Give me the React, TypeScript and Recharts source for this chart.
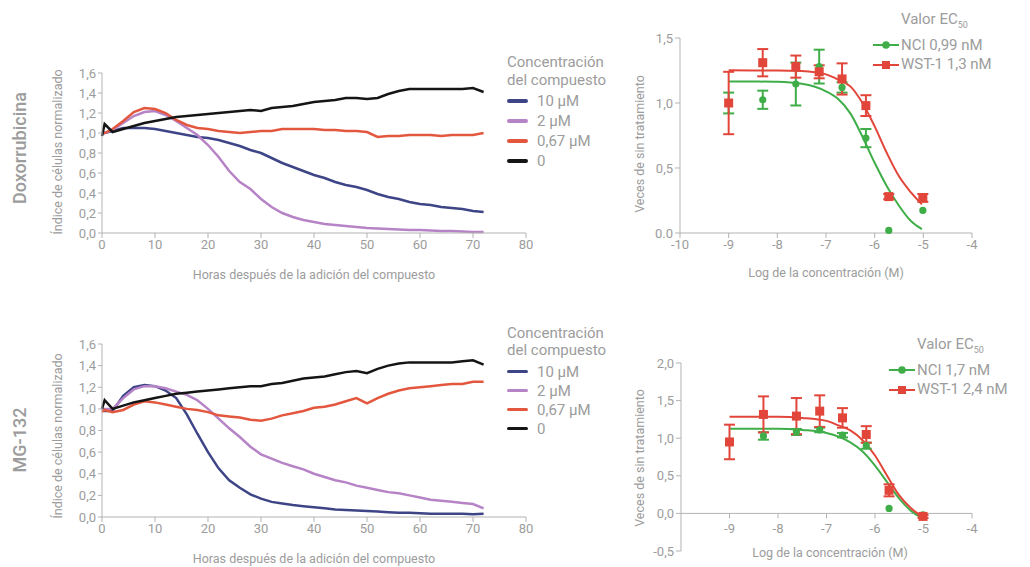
import React from "react";
import {
  LineChart,
  Line,
  XAxis,
  YAxis,
  ComposedChart,
  Scatter,
  ErrorBar,
  ReferenceLine,
  ReferenceDot,
} from "recharts";

const GRAY = "#9c9c9c";
const AXIS = "#b3b3b3";
const FONT = "Roboto, 'Noto Sans', sans-serif";
const GREEN = "#3fae49";
const RED = "#e2463a";

// time course (hours after compound addition)
const hours = [0, 0.5, 2, 4, 6, 8, 10, 12, 14, 16, 18, 20, 22, 24, 26, 28, 30, 32, 34, 36, 38, 40, 42, 44, 46, 48, 50, 52, 54, 56, 58, 60, 62, 64, 66, 68, 70, 72];

const doxo10 = [1.0, 1.0, 1.02, 1.05, 1.05, 1.05, 1.04, 1.02, 1.0, 0.98, 0.96, 0.95, 0.93, 0.9, 0.87, 0.83, 0.8, 0.75, 0.7, 0.66, 0.62, 0.58, 0.55, 0.51, 0.48, 0.46, 0.43, 0.39, 0.36, 0.34, 0.31, 0.29, 0.28, 0.26, 0.25, 0.24, 0.22, 0.21];
const doxo2 = [1.0, 1.0, 1.03, 1.1, 1.17, 1.21, 1.22, 1.18, 1.12, 1.05, 0.98, 0.88, 0.76, 0.62, 0.51, 0.44, 0.34, 0.26, 0.2, 0.16, 0.13, 0.11, 0.09, 0.08, 0.07, 0.06, 0.05, 0.045, 0.04, 0.035, 0.03, 0.03, 0.025, 0.02, 0.02, 0.015, 0.01, 0.01];
const doxo067 = [1.0, 1.0, 1.04, 1.12, 1.21, 1.25, 1.24, 1.2, 1.13, 1.08, 1.05, 1.04, 1.02, 1.01, 1.0, 1.01, 1.02, 1.02, 1.04, 1.04, 1.04, 1.04, 1.03, 1.03, 1.02, 1.02, 1.01, 0.96, 0.97, 0.97, 0.98, 0.98, 0.98, 0.97, 0.98, 0.98, 0.98, 1.0];
const doxo0 = [0.97, 1.09, 1.01, 1.04, 1.07, 1.1, 1.12, 1.14, 1.16, 1.17, 1.18, 1.19, 1.2, 1.21, 1.22, 1.23, 1.22, 1.25, 1.26, 1.27, 1.29, 1.31, 1.32, 1.33, 1.35, 1.35, 1.34, 1.35, 1.39, 1.42, 1.44, 1.44, 1.44, 1.44, 1.44, 1.44, 1.45, 1.41];

const mg10 = [1.0, 0.98, 0.98, 1.12, 1.2, 1.22, 1.21, 1.17, 1.1, 0.95, 0.77, 0.6, 0.45, 0.34, 0.27, 0.21, 0.17, 0.14, 0.125, 0.11, 0.1, 0.09, 0.08, 0.07, 0.065, 0.06, 0.055, 0.05, 0.045, 0.04, 0.04, 0.035, 0.03, 0.03, 0.03, 0.03, 0.025, 0.03];
const mg2 = [1.0, 1.0, 1.0, 1.1, 1.18, 1.21, 1.21, 1.19, 1.16, 1.13, 1.08, 1.0, 0.91, 0.82, 0.74, 0.65, 0.58, 0.54, 0.5, 0.47, 0.44, 0.4, 0.37, 0.34, 0.32, 0.29, 0.27, 0.25, 0.23, 0.22, 0.2, 0.18, 0.16, 0.15, 0.14, 0.13, 0.12, 0.08];
const mg067 = [0.97, 0.99, 0.97, 0.99, 1.04, 1.07, 1.06, 1.04, 1.02, 1.0, 0.99, 0.97, 0.94, 0.93, 0.92, 0.9, 0.89, 0.91, 0.94, 0.96, 0.98, 1.01, 1.02, 1.04, 1.07, 1.1, 1.05, 1.1, 1.14, 1.17, 1.19, 1.2, 1.21, 1.22, 1.23, 1.23, 1.25, 1.25];
const mg0 = [1.0, 1.08, 1.0, 1.03, 1.06, 1.08, 1.1, 1.12, 1.14, 1.15, 1.16, 1.17, 1.18, 1.19, 1.2, 1.21, 1.21, 1.23, 1.24, 1.26, 1.28, 1.29, 1.3, 1.32, 1.34, 1.35, 1.33, 1.37, 1.4, 1.42, 1.43, 1.43, 1.43, 1.43, 1.43, 1.44, 1.45, 1.41];

const concKeys = ["c10", "c2", "c067", "c0"];
const concLabels = ["10 µM", "2 µM", "0,67 µM", "0"];
const concColors = ["#3e4587", "#b683c6", "#e4573f", "#151515"];
const timeTicks = [0, 10, 20, 30, 40, 50, 60, 70, 80];
const cellTicks = [0, 0.2, 0.4, 0.6, 0.8, 1.0, 1.2, 1.4, 1.6];

// dose response (log M)
const doseLog = [-9, -8.3, -7.62, -7.14, -6.67, -6.18, -5.71, -5.01];
const doxoWst = [1.0, 1.31, 1.28, 1.24, 1.185, 0.98, 0.28, 0.27];
const doxoWstErr = [0.24, 0.105, 0.085, 0.05, 0.12, 0.08, 0.02, 0.03];
const doxoNci = [1.0, 1.025, 1.146, 1.28, 1.12, 0.73, 0.02, 0.174];
const doxoNciErr = [0.08, 0.07, 0.165, 0.13, 0.04, 0.07, 0, 0];

const mgWst = [0.95, 1.316, 1.294, 1.36, 1.27, 1.05, 0.307, -0.04];
const mgWstErr = [0.23, 0.24, 0.24, 0.21, 0.13, 0.11, 0.08, 0.02];
const mgNciLog = [-8.3, -7.62, -7.14, -6.67, -6.18, -5.71, -5.01];
const mgNci = [1.03, 1.083, 1.11, 1.04, 0.9, 0.066, -0.02];
const mgNciErr = [0.05, 0.04, 0.03, 0.03, 0.04, 0, 0];

const fitLog = [-9, -8.5, -8, -7.5, -7, -6.75, -6.5, -6.25, -6, -5.75, -5.5, -5.25, -5.03];
const doxoFitWst = [1.251, 1.25, 1.25, 1.246, 1.22, 1.18, 1.128, 1.0, 0.82, 0.615, 0.436, 0.31, 0.22];
const doxoFitNci = [1.166, 1.165, 1.163, 1.148, 1.09, 1.03, 0.92, 0.74, 0.54, 0.36, 0.21, 0.09, 0.03];
const mgFitWst = [1.285, 1.285, 1.285, 1.27, 1.23, 1.17, 1.1, 0.97, 0.77, 0.5, 0.24, 0.066, -0.04];
const mgFitNci = [1.127, 1.127, 1.127, 1.11, 1.07, 1.02, 0.94, 0.82, 0.636, 0.416, 0.197, 0.03, -0.06];

const logTicks = [-10, -9, -8, -7, -6, -5, -4];
const mgLogTicks = [-9, -8, -7, -6, -5, -4];
const doxoFoldTicks = [0, 0.5, 1.0, 1.5];
const mgFoldTicks = [-0.5, 0, 0.5, 1.0, 1.5, 2.0];

const fmt = (v: number) => v.toFixed(1).replace(".", ",");

const toRows = (s: number[][]) =>
  hours.map((t, i) => ({ t, c10: s[0][i], c2: s[1][i], c067: s[2][i], c0: s[3][i] }));
const pts = (xs: number[], ys: number[], es: number[]) => xs.map((x, i) => ({ x, y: ys[i], e: es[i] }));
const curve = (xs: number[], ys: number[]) => xs.map((x, i) => ({ x, y: ys[i] }));

const doxoRows = toRows([doxo10, doxo2, doxo067, doxo0]);
const mgRows = toRows([mg10, mg2, mg067, mg0]);

const tickStyle = { fill: GRAY, fontSize: 13, fontFamily: FONT };

const VLabel = ({ x, y, text, size, weight = 400 }: any) => (
  <div
    style={{
      position: "absolute",
      left: x,
      top: y,
      transform: "translate(-50%, -50%) rotate(-90deg)",
      whiteSpace: "nowrap",
      fontSize: size,
      fontWeight: weight,
      color: GRAY,
      lineHeight: 1,
    }}
  >
    {text}
  </div>
);

const TimeCourse = ({ left, top, height, mTop, mBottom, rows }: any) => (
  <div style={{ position: "absolute", left, top }}>
    <LineChart width={501} height={height} data={rows} margin={{ top: mTop, right: 15, bottom: mBottom, left: 22 }}>
      <XAxis
        dataKey="t"
        type="number"
        domain={[0, 80]}
        ticks={timeTicks}
        interval={0}
        stroke={AXIS}
        tick={tickStyle}
        tickSize={5}
        height={46}
        label={{ value: "Horas después de la adición del compuesto", position: "insideBottom", offset: 0, fill: GRAY, fontSize: 12.5 }}
      />
      <YAxis type="number" domain={[0, 1.6]} ticks={cellTicks} interval={0} tickFormatter={fmt} width={40} stroke={AXIS} tick={tickStyle} tickSize={4} />
      {concKeys.map((k, i) => (
        <Line key={k} dataKey={k} type="linear" stroke={concColors[i]} strokeWidth={2.5} dot={false} isAnimationActive={false} />
      ))}
    </LineChart>
  </div>
);

const ConcLegend = ({ left, top, titleLH, itemLH, gap }: any) => (
  <div style={{ position: "absolute", left, top, color: GRAY, fontSize: 15, whiteSpace: "nowrap" }}>
    <div style={{ lineHeight: `${titleLH}px` }}>Concentración</div>
    <div style={{ lineHeight: `${titleLH}px`, marginBottom: gap }}>del compuesto</div>
    {concLabels.map((l, i) => (
      <div key={l} style={{ display: "flex", alignItems: "center", height: itemLH }}>
        <div style={{ width: 21, height: 3.5, borderRadius: 2, background: concColors[i], marginRight: 9 }} />
        <span>{l}</span>
      </div>
    ))}
  </div>
);

const Swatch = ({ color, square }: any) => (
  <svg width={26} height={12} style={{ marginRight: 2, flex: "none" }}>
    <line x1={0} x2={26} y1={6} y2={6} stroke={color} strokeWidth={2} />
    {square ? <rect x={9} y={2} width={8} height={8} fill={color} /> : <circle cx={13} cy={6} r={3.8} fill={color} />}
  </svg>
);

const DoseLegend = ({ left, top, nci, wst }: any) => (
  <div style={{ position: "absolute", left, top, color: GRAY, fontSize: 15, whiteSpace: "nowrap", lineHeight: "19.6px" }}>
    <div style={{ paddingLeft: 28 }}>
      Valor EC<span style={{ fontSize: 9, verticalAlign: -4 }}>50</span>
    </div>
    <div style={{ display: "flex", alignItems: "center", height: 19.6 }}>
      <Swatch color={GREEN} />
      <span>{nci}</span>
    </div>
    <div style={{ display: "flex", alignItems: "center", height: 19.6 }}>
      <Swatch color={RED} square />
      <span>{wst}</span>
    </div>
  </div>
);

const redSquare = (p: any) => <rect x={p.cx - 4.5} y={p.cy - 4.5} width={9} height={9} fill={RED} />;
const greenDot = (p: any) => <circle cx={p.cx} cy={p.cy} r={3.6} fill={GREEN} />;

const doseSeries = (fitN: any[], fitW: any[], ptsN: any[], ptsW: any[]) => [
  <Line key="fn" data={fitN} dataKey="y" type="monotone" stroke={GREEN} strokeWidth={2} dot={false} isAnimationActive={false} />,
  <Line key="fw" data={fitW} dataKey="y" type="monotone" stroke={RED} strokeWidth={2} dot={false} isAnimationActive={false} />,
  <Scatter key="pn" data={ptsN} dataKey="y" fill={GREEN} shape={greenDot} isAnimationActive={false}>
    <ErrorBar dataKey="e" direction="y" width={5.5} stroke={GREEN} strokeWidth={2} />
  </Scatter>,
  <Scatter key="pw" data={ptsW} dataKey="y" fill={RED} shape={redSquare} isAnimationActive={false}>
    <ErrorBar dataKey="e" direction="y" width={5.5} stroke={RED} strokeWidth={2} />
  </Scatter>,
];

const DoxoDose = () => (
  <div style={{ position: "absolute", left: 620, top: 20 }}>
    <ComposedChart width={370} height={270} margin={{ top: 18, right: 18, bottom: 11, left: 20 }}>
      <XAxis
        dataKey="x"
        type="number"
        domain={[-10, -4]}
        ticks={logTicks}
        interval={0}
        stroke={AXIS}
        tick={tickStyle}
        tickSize={5}
        height={46}
        label={{ value: "Log de la concentración (M)", position: "insideBottom", offset: 2, fill: GRAY, fontSize: 12.5 }}
      />
      <YAxis
        dataKey="y"
        type="number"
        domain={[0, 1.5]}
        ticks={doxoFoldTicks}
        interval={0}
        tickFormatter={(v: number) => (v === 0 ? "0.0" : fmt(v))}
        width={40}
        stroke={AXIS}
        tick={tickStyle}
        tickSize={5}
      />
      {doseSeries(curve(fitLog, doxoFitNci), curve(fitLog, doxoFitWst), pts(doseLog, doxoNci, doxoNciErr), pts(doseLog, doxoWst, doxoWstErr))}
    </ComposedChart>
  </div>
);

const MgDose = () => (
  <div style={{ position: "absolute", left: 620, top: 320 }}>
    <ComposedChart width={370} height={247} margin={{ top: 43, right: 18, bottom: 16, left: 21 }}>
      <XAxis dataKey="x" type="number" domain={[-10, -4]} hide />
      <YAxis dataKey="y" type="number" domain={[-0.5, 2]} ticks={mgFoldTicks} interval={0} tickFormatter={fmt} width={40} stroke={AXIS} tick={tickStyle} tickSize={5} />
      <ReferenceLine y={0} stroke={AXIS} />
      {mgLogTicks.map((t) => (
        <ReferenceDot
          key={t}
          x={t}
          y={0}
          ifOverflow="visible"
          shape={(p: any) => (
            <g>
              <line x1={p.cx} x2={p.cx} y1={p.cy} y2={p.cy + 5} stroke={AXIS} />
              <text x={p.cx} y={p.cy + 15} textAnchor="middle" dominantBaseline="central" fill={GRAY} fontSize={13} fontFamily={FONT}>
                {t}
              </text>
            </g>
          )}
        />
      ))}
      {doseSeries(curve(fitLog, mgFitNci), curve(fitLog, mgFitWst), pts(mgNciLog, mgNci, mgNciErr), pts(doseLog, mgWst, mgWstErr))}
    </ComposedChart>
  </div>
);

export default function App() {
  return (
    <div
      style={{
        position: "absolute",
        left: 0,
        top: 0,
        width: 1030,
        height: 567,
        background: "#fff",
        fontFamily: FONT,
        overflow: "hidden",
      }}
    >
      <VLabel x={20} y={148} text="Doxorrubicina" size={18} weight={500} />
      <VLabel x={20} y={440} text="MG-132" size={18} weight={500} />
      <VLabel x={58} y={152} text="Índice de células normalizado" size={12.5} />
      <VLabel x={58} y={436} text="Índice de células normalizado" size={12.5} />
      <VLabel x={640} y={144} text="Veces de sin tratamiento" size={12.5} />
      <VLabel x={640} y={458} text="Veces de sin tratamiento" size={12.5} />

      <TimeCourse left={40} top={45} height={245} mTop={28} mBottom={11} rows={doxoRows} />
      <TimeCourse left={40} top={320} height={247} mTop={24} mBottom={4} rows={mgRows} />
      <ConcLegend left={507} top={53} titleLH={18} itemLH={20} gap={2} />
      <ConcLegend left={507} top={325} titleLH={17} itemLH={19} gap={3} />

      <DoxoDose />
      <MgDose />
      <DoseLegend left={873} top={10} nci="NCI 0,99 nM" wst="WST-1 1,3 nM" />
      <DoseLegend left={889} top={335} nci="NCI 1,7 nM" wst="WST-1 2,4 nM" />
      <div
        style={{
          position: "absolute",
          left: 830,
          top: 552,
          transform: "translate(-50%, -50%)",
          color: GRAY,
          fontSize: 12.5,
          whiteSpace: "nowrap",
        }}
      >
        Log de la concentración (M)
      </div>
    </div>
  );
}
